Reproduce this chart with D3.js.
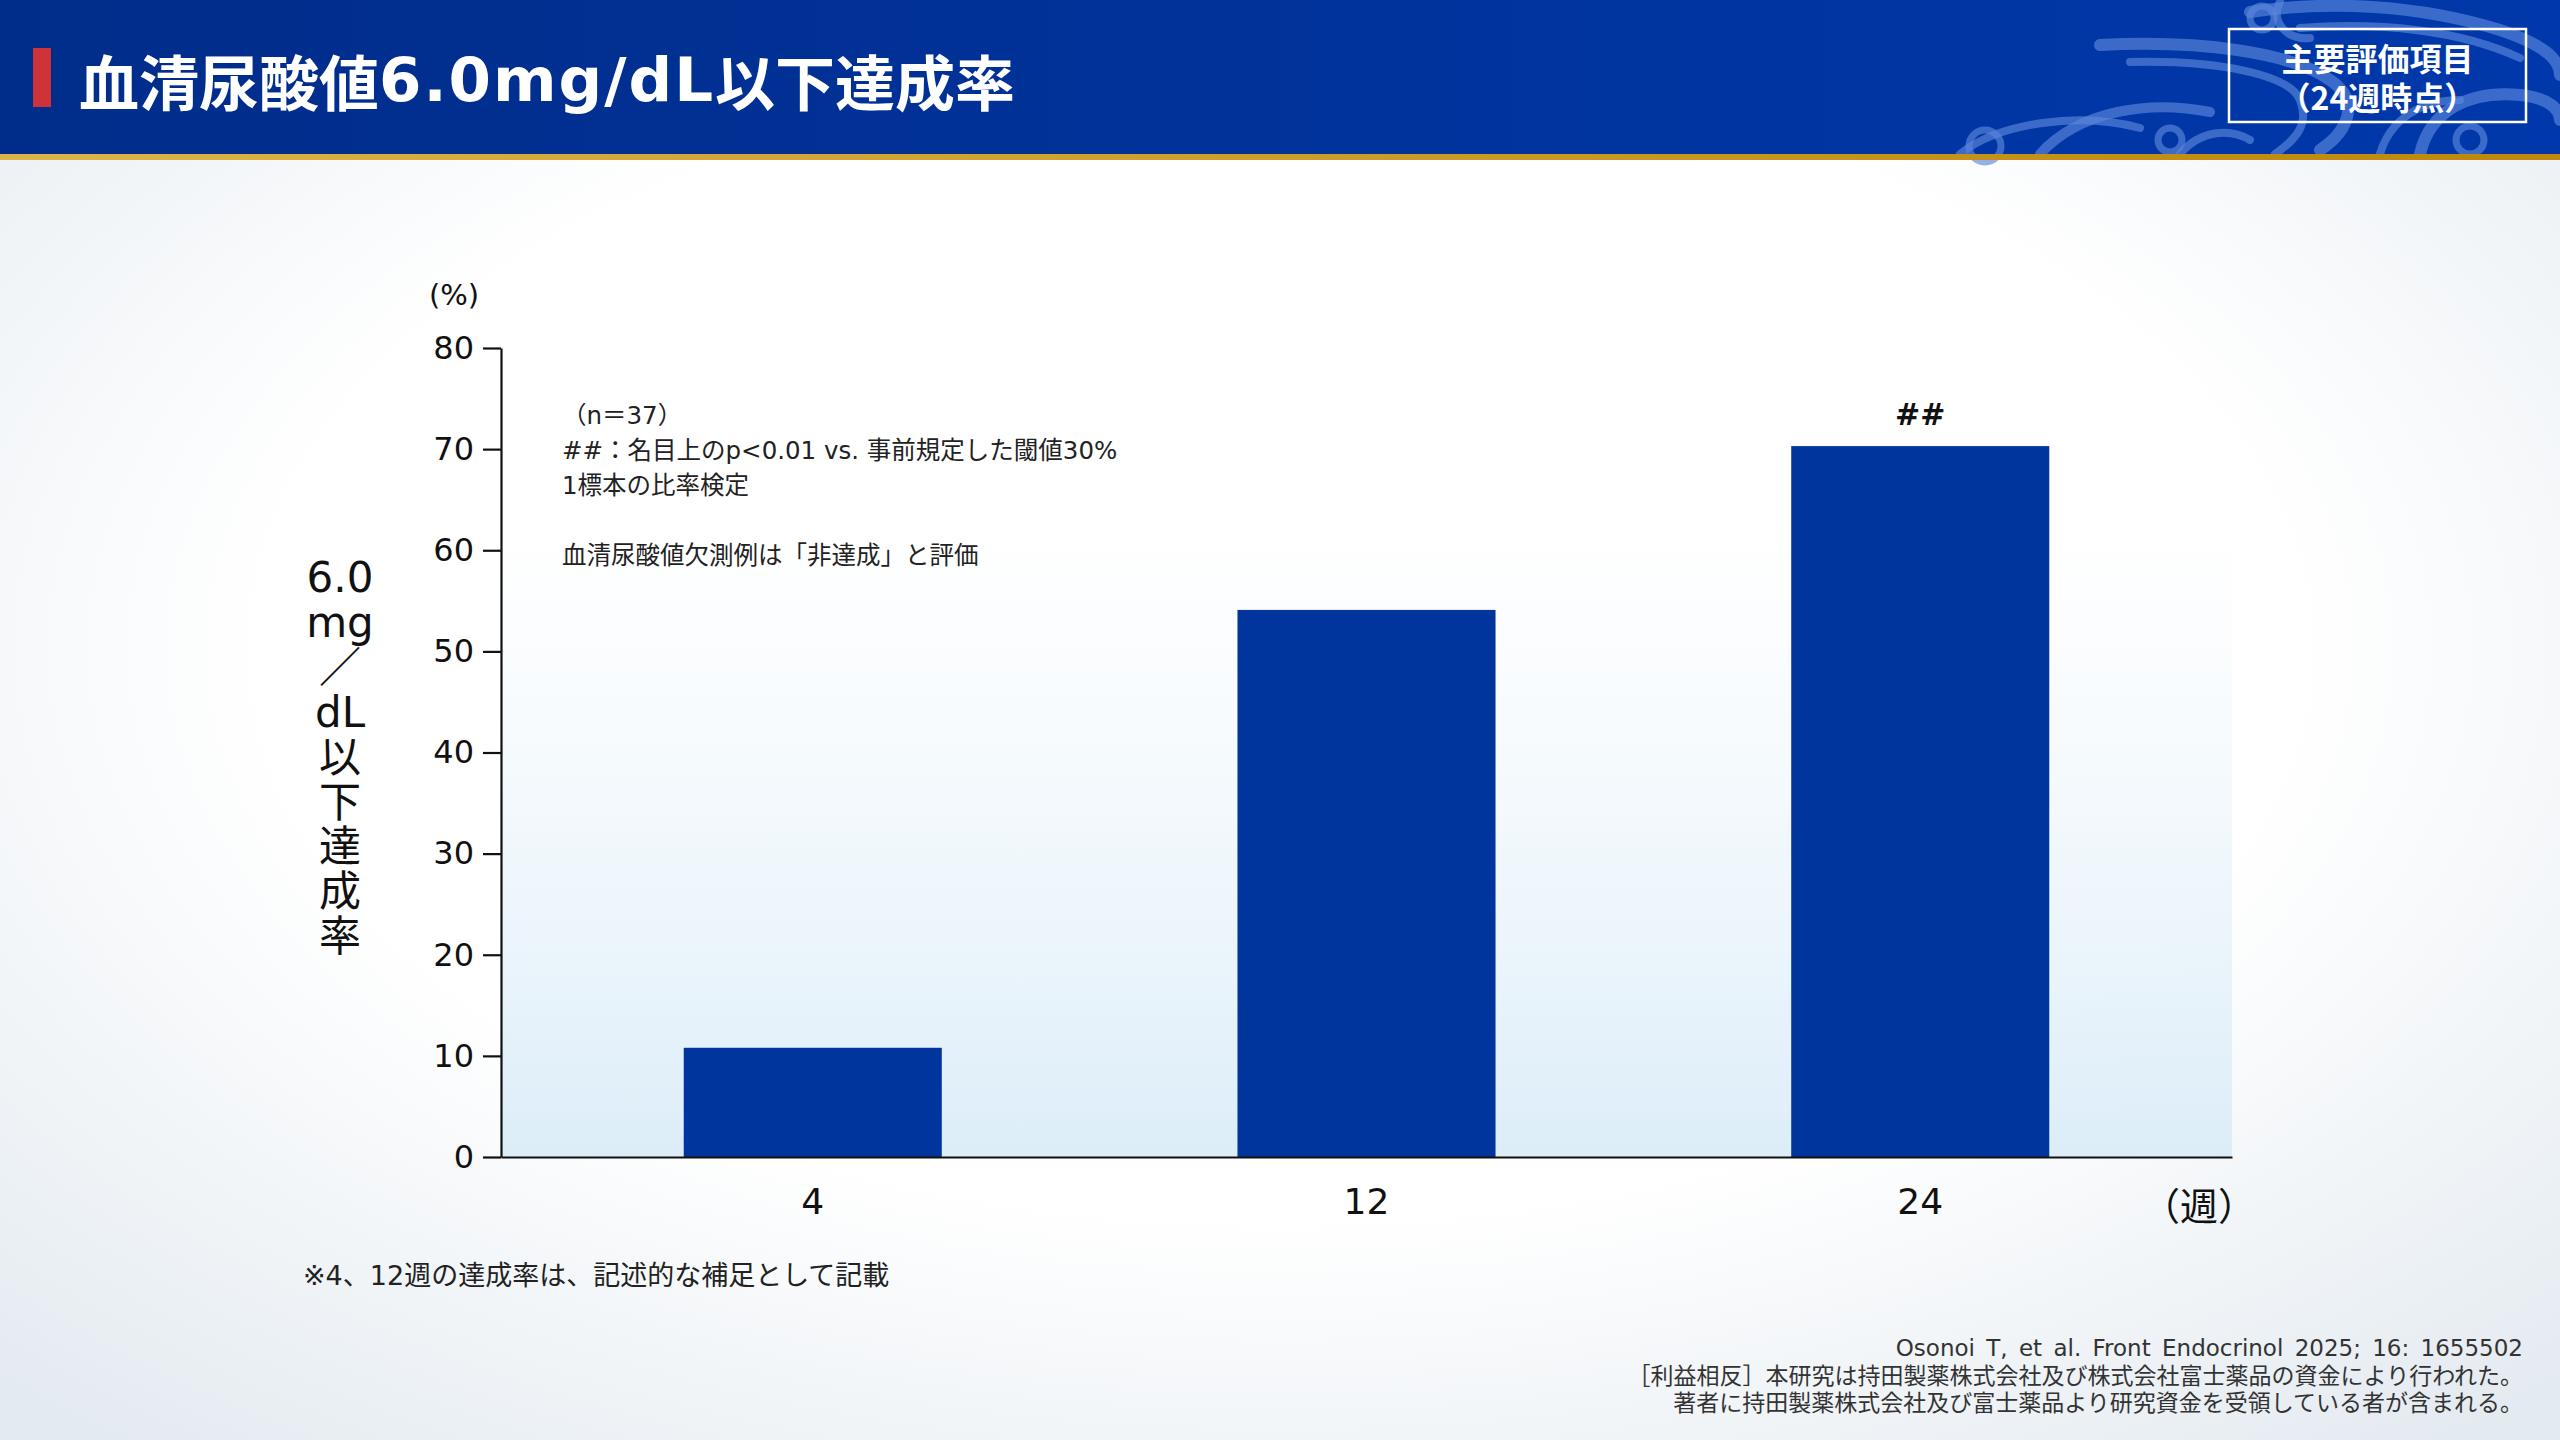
<!DOCTYPE html>
<html>
<head>
<meta charset="utf-8">
<script src="https://cdn.jsdelivr.net/npm/d3@7"></script>
<style>
  body { margin: 0; background: #fff; position: relative; }
  svg { display: block; }
  svg text { font-family: "Noto Sans CJK JP", "Noto Sans", sans-serif; }
  .block { position: absolute; white-space: pre; font-family: "Noto Sans CJK JP", "Noto Sans", sans-serif; }
  #yTitle {
    left: 290px;
    top: 556px;
    width: 100px;
    text-align: center;
    font-family: "DejaVu Sans", "Noto Sans CJK JP", sans-serif;
    font-size: 42px;
    line-height: 44.9px;
    color: #111;
  }
  #boxText {
    left: 2229px;
    top: 37.5px;
    width: 297px;
    text-align: center;
    font-size: 32px;
    font-weight: 700;
    line-height: 39px;
    color: #fff;
  }
  #cite {
    right: 37px;
    top: 1335px;
    text-align: right;
    font-family: "DejaVu Sans", "Noto Sans CJK JP", sans-serif;
    font-size: 23px;
    word-spacing: 4px;
    line-height: 27.5px;
    color: #333;
  }
</style>
</head>
<body>
<svg id="chart" width="2560" height="1440"></svg>
<script>
// DATA
const weeks = ["4", "12", "24"];
const rates = [10.8, 54.1, 70.3];
const marks = ["", "", "##"];
const yTicks = [0, 10, 20, 30, 40, 50, 60, 70, 80];
const yTitle = ["6.0", "mg", "／", "dL", "以", "下", "達", "成", "率"];
const badge = ["主要評価項目", "（24週時点）"];
const notes = [
  "（n＝37）",
  "##：名目上のp<0.01 vs. 事前規定した閾値30%",
  "1標本の比率検定",
  "",
  "血清尿酸値欠測例は「非達成」と評価"
];
const citation = [
  "Osonoi T, et al. Front Endocrinol 2025; 16: 1655502",
  "［利益相反］本研究は持田製薬株式会社及び株式会社富士薬品の資金により行われた。",
  "著者に持田製薬株式会社及び富士薬品より研究資金を受領している者が含まれる。"
];

const svg = d3.select("#chart");
const W = 2560, H = 1440;
const latin = "'DejaVu Sans', 'Noto Sans CJK JP', sans-serif";

// CANVAS SETUP
const margin = { top: 348, right: 328, bottom: 283, left: 501 },
  width = W - margin.left - margin.right,
  height = H - margin.top - margin.bottom;

const defs = svg.append("defs");

const bgGrad = defs.append("radialGradient").attr("id", "bgGrad")
  .attr("cx", "50%").attr("cy", "45%").attr("r", "72%");
bgGrad.append("stop").attr("offset", "55%").attr("stop-color", "#ffffff");
bgGrad.append("stop").attr("offset", "100%").attr("stop-color", "#e3eaf0");

const headGrad = defs.append("linearGradient").attr("id", "headGrad");
headGrad.append("stop").attr("offset", "0%").attr("stop-color", "#012d8a");
headGrad.append("stop").attr("offset", "100%").attr("stop-color", "#0038ab");

const goldGrad = defs.append("linearGradient").attr("id", "goldGrad");
goldGrad.append("stop").attr("offset", "0%").attr("stop-color", "#dcb448");
goldGrad.append("stop").attr("offset", "100%").attr("stop-color", "#bf870c");

const plotGrad = defs.append("linearGradient").attr("id", "plotGrad")
  .attr("x1", 0).attr("y1", 0).attr("x2", 0).attr("y2", 1);
plotGrad.append("stop").attr("offset", "0%").attr("stop-color", "#ffffff").attr("stop-opacity", 0);
plotGrad.append("stop").attr("offset", "22%").attr("stop-color", "#ffffff").attr("stop-opacity", 0.6);
plotGrad.append("stop").attr("offset", "100%").attr("stop-color", "#dcedf8");

// BACKGROUND
svg.append("rect").attr("width", W).attr("height", H).attr("fill", "url(#bgGrad)");

// HEADER
const head = svg.append("g");
head.append("rect").attr("width", W).attr("height", 154).attr("fill", "url(#headGrad)");

const waves = head.append("g")
  .attr("fill", "none")
  .attr("stroke", "#5b87dc")
  .attr("stroke-opacity", 0.65)
  .attr("stroke-linecap", "round");
[
  { d: "M2100,45 C2200,40 2290,52 2330,80 C2360,100 2350,130 2320,150", w: 12 },
  { d: "M2130,62 C2220,60 2290,75 2300,100 C2310,125 2295,140 2275,154", w: 8 },
  { d: "M2040,154 C2080,110 2150,100 2210,112", w: 10 },
  { d: "M1960,154 C2000,122 2080,112 2140,128", w: 8 },
  { d: "M2250,12 C2330,0 2420,5 2500,30 C2545,45 2560,60 2560,75", w: 12 },
  { d: "M2300,28 C2380,22 2460,30 2520,58", w: 8 },
  { d: "M2420,154 C2430,110 2470,90 2520,95 C2550,98 2560,110 2560,120", w: 12 },
  { d: "M2380,154 C2390,120 2420,100 2460,100", w: 8 },
  { d: "M2280,2 C2270,20 2285,40 2310,38", w: 8 },
  { d: "M2180,154 C2200,130 2230,128 2250,140", w: 8 }
].forEach((p) => waves.append("path").attr("d", p.d).attr("stroke-width", p.w));
[
  { cx: 1985, cy: 146, r: 16 }, { cx: 2262, cy: 18, r: 12 },
  { cx: 2170, cy: 140, r: 12 }, { cx: 2470, cy: 140, r: 14 }
].forEach((c) => waves.append("circle").attr("cx", c.cx).attr("cy", c.cy).attr("r", c.r)
  .attr("stroke-width", 7));

head.append("rect").attr("y", 154).attr("width", W).attr("height", 6).attr("fill", "url(#goldGrad)");
head.append("rect").attr("x", 33).attr("y", 48).attr("width", 18).attr("height", 59).attr("fill", "#cf3339");

head.append("text")
  .attr("x", 79).attr("y", 79)
  .attr("dominant-baseline", "central")
  .attr("fill", "#fff")
  .attr("font-size", 60)
  .attr("font-weight", 700)
  .call((t) => {
    t.append("tspan").text("血清尿酸値");
    t.append("tspan").style("font-family", latin).attr("font-weight", 600)
      .attr("font-size", 61).attr("letter-spacing", 2).text("6.0mg/dL");
    t.append("tspan").text("以下達成率");
  });

head.append("rect")
  .attr("x", 2229).attr("y", 29).attr("width", 297).attr("height", 93)
  .attr("fill", "none").attr("stroke", "#fff").attr("stroke-width", 2.5);

// SCALES
const g = svg.append("g").attr("transform", `translate(${margin.left},${margin.top})`);

const xScale = d3.scaleBand()
  .domain(weeks)
  .range([0, width])
  .paddingInner(0.534)
  .paddingOuter(0.33);

const yScale = d3.scaleLinear().domain([0, 80]).range([height, 0]);

// PLOT BACKGROUND
g.append("rect").attr("width", width).attr("height", height).attr("fill", "url(#plotGrad)");

// BARS
const barData = weeks.map((w, i) => ({ week: w, rate: rates[i], mark: marks[i] }));

g.selectAll(".bar")
  .data(barData)
  .join("rect")
  .attr("class", "bar")
  .attr("x", (d) => xScale(d.week))
  .attr("y", (d) => yScale(d.rate))
  .attr("width", xScale.bandwidth())
  .attr("height", (d) => height - yScale(d.rate))
  .attr("fill", "#00359d");

g.selectAll(".mark")
  .data(barData)
  .join("text")
  .attr("class", "mark")
  .attr("x", (d) => xScale(d.week) + xScale.bandwidth() / 2)
  .attr("y", (d) => yScale(d.rate) - 32)
  .attr("text-anchor", "middle").attr("dominant-baseline", "central")
  .attr("font-size", 30).attr("font-weight", 700).attr("fill", "#111")
  .style("font-family", latin)
  .text((d) => d.mark);

// AXES
const yAxis = g.append("g")
  .call(d3.axisLeft(yScale).tickValues(yTicks).tickSize(18).tickSizeOuter(0).tickPadding(9));
yAxis.selectAll("path, line").attr("stroke", "#111").attr("stroke-width", 2.2);
yAxis.selectAll("text").attr("font-size", 32).attr("fill", "#111")
  .style("font-family", latin);

const xAxis = g.append("g")
  .attr("transform", `translate(0,${height})`)
  .call(d3.axisBottom(xScale).tickSize(0).tickSizeOuter(0).tickPadding(31));
xAxis.select(".domain").attr("stroke", "#111").attr("stroke-width", 2.2);
xAxis.selectAll("text").attr("font-size", 36).attr("fill", "#111")
  .style("font-family", latin);

g.append("text")
  .attr("x", width - 33).attr("y", height + 46)
  .attr("text-anchor", "middle").attr("dominant-baseline", "central")
  .attr("font-size", 38).attr("fill", "#111")
  .text("（週）");

g.append("text")
  .attr("x", -47).attr("y", -53)
  .attr("text-anchor", "middle").attr("dominant-baseline", "central")
  .attr("font-size", 29).attr("fill", "#111")
  .style("font-family", latin)
  .text("(%)");

// MULTI-LINE TEXT BLOCKS (one text run each, lines split by newlines)
const body = d3.select("body");

body.append("div").attr("class", "block").attr("id", "yTitle")
  .text(yTitle.join("\n"));

body.append("div").attr("class", "block").attr("id", "boxText")
  .text(badge.join("\n"));

body.append("div").attr("class", "block").attr("id", "cite")
  .text(citation.join("\n"));

// NOTES
svg.selectAll(".note")
  .data(notes)
  .join("text")
  .attr("class", "note")
  .attr("x", 562)
  .attr("y", (d, i) => 415 + i * 35)
  .attr("dominant-baseline", "central")
  .attr("font-size", 24.5).attr("fill", "#222")
  .style("font-family", latin)
  .text((d) => d);

svg.append("text")
  .attr("x", 303).attr("y", 1275)
  .attr("dominant-baseline", "central")
  .attr("font-size", 27).attr("fill", "#222")
  .style("font-family", latin)
  .text("※4、12週の達成率は、記述的な補足として記載");
</script>
</body>
</html>
